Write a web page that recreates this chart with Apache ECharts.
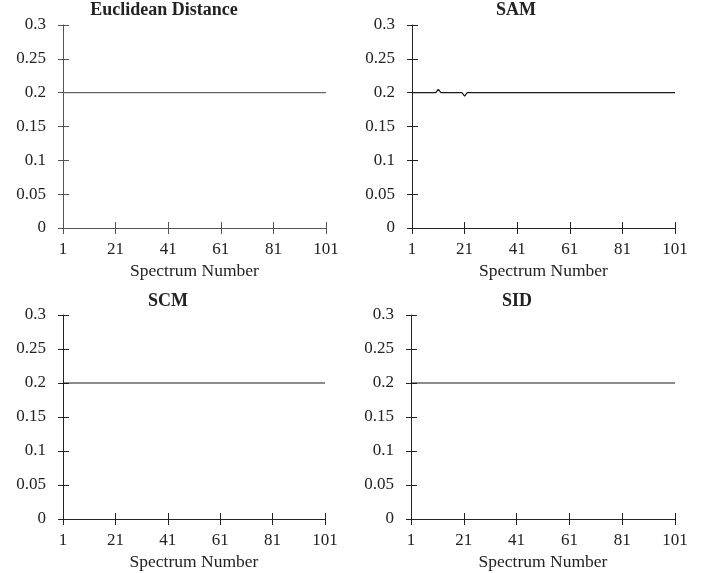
<!DOCTYPE html>
<html>
<head>
<meta charset="utf-8">
<script src="https://cdn.jsdelivr.net/npm/echarts@6/dist/echarts.min.js"></script>
<style>html,body{margin:0;padding:0;background:#fff}#c{width:708px;height:573px}</style>
</head>
<body>
<div id="c"></div>
<script>
var spectrumNumbers = [
 1,2,3,4,5,6,7,8,9,10,11,12,13,14,15,16,17,18,19,20,
 21,22,23,24,25,26,27,28,29,30,31,32,33,34,35,36,37,38,39,40,
 41,42,43,44,45,46,47,48,49,50,51,52,53,54,55,56,57,58,59,60,
 61,62,63,64,65,66,67,68,69,70,71,72,73,74,75,76,77,78,79,80,
 81,82,83,84,85,86,87,88,89,90,91,92,93,94,95,96,97,98,99,100,101
];
var yTickLabels = ['0','0.05','0.1','0.15','0.2','0.25','0.3'];
var panelTitles = ['Euclidean Distance','SAM','SCM','SID'];
var xAxisName = 'Spectrum Number';

var euclideanValues = [
 0.2,0.2,0.2,0.2,0.2,0.2,0.2,0.2,0.2,0.2,
 0.2,0.2,0.2,0.2,0.2,0.2,0.2,0.2,0.2,0.2,
 0.2,0.2,0.2,0.2,0.2,0.2,0.2,0.2,0.2,0.2,
 0.2,0.2,0.2,0.2,0.2,0.2,0.2,0.2,0.2,0.2,
 0.2,0.2,0.2,0.2,0.2,0.2,0.2,0.2,0.2,0.2,
 0.2,0.2,0.2,0.2,0.2,0.2,0.2,0.2,0.2,0.2,
 0.2,0.2,0.2,0.2,0.2,0.2,0.2,0.2,0.2,0.2,
 0.2,0.2,0.2,0.2,0.2,0.2,0.2,0.2,0.2,0.2,
 0.2,0.2,0.2,0.2,0.2,0.2,0.2,0.2,0.2,0.2,
 0.2,0.2,0.2,0.2,0.2,0.2,0.2,0.2,0.2,0.2,0.2
];
var samValues = [
 0.2,0.2,0.2,0.2,0.2,0.2,0.2,0.2,0.2,0.2,
 0.205,0.2,0.2,0.2,0.2,0.2,0.2,0.2,0.2,0.2,
 0.195,0.2,0.2,0.2,0.2,0.2,0.2,0.2,0.2,0.2,
 0.2,0.2,0.2,0.2,0.2,0.2,0.2,0.2,0.2,0.2,
 0.2,0.2,0.2,0.2,0.2,0.2,0.2,0.2,0.2,0.2,
 0.2,0.2,0.2,0.2,0.2,0.2,0.2,0.2,0.2,0.2,
 0.2,0.2,0.2,0.2,0.2,0.2,0.2,0.2,0.2,0.2,
 0.2,0.2,0.2,0.2,0.2,0.2,0.2,0.2,0.2,0.2,
 0.2,0.2,0.2,0.2,0.2,0.2,0.2,0.2,0.2,0.2,
 0.2,0.2,0.2,0.2,0.2,0.2,0.2,0.2,0.2,0.2,0.2
];
var scmValues = [
 0.2,0.2,0.2,0.2,0.2,0.2,0.2,0.2,0.2,0.2,
 0.2,0.2,0.2,0.2,0.2,0.2,0.2,0.2,0.2,0.2,
 0.2,0.2,0.2,0.2,0.2,0.2,0.2,0.2,0.2,0.2,
 0.2,0.2,0.2,0.2,0.2,0.2,0.2,0.2,0.2,0.2,
 0.2,0.2,0.2,0.2,0.2,0.2,0.2,0.2,0.2,0.2,
 0.2,0.2,0.2,0.2,0.2,0.2,0.2,0.2,0.2,0.2,
 0.2,0.2,0.2,0.2,0.2,0.2,0.2,0.2,0.2,0.2,
 0.2,0.2,0.2,0.2,0.2,0.2,0.2,0.2,0.2,0.2,
 0.2,0.2,0.2,0.2,0.2,0.2,0.2,0.2,0.2,0.2,
 0.2,0.2,0.2,0.2,0.2,0.2,0.2,0.2,0.2,0.2,0.2
];
var sidValues = [
 0.2,0.2,0.2,0.2,0.2,0.2,0.2,0.2,0.2,0.2,
 0.2,0.2,0.2,0.2,0.2,0.2,0.2,0.2,0.2,0.2,
 0.2,0.2,0.2,0.2,0.2,0.2,0.2,0.2,0.2,0.2,
 0.2,0.2,0.2,0.2,0.2,0.2,0.2,0.2,0.2,0.2,
 0.2,0.2,0.2,0.2,0.2,0.2,0.2,0.2,0.2,0.2,
 0.2,0.2,0.2,0.2,0.2,0.2,0.2,0.2,0.2,0.2,
 0.2,0.2,0.2,0.2,0.2,0.2,0.2,0.2,0.2,0.2,
 0.2,0.2,0.2,0.2,0.2,0.2,0.2,0.2,0.2,0.2,
 0.2,0.2,0.2,0.2,0.2,0.2,0.2,0.2,0.2,0.2,
 0.2,0.2,0.2,0.2,0.2,0.2,0.2,0.2,0.2,0.2,0.2
];
var seriesValues = [euclideanValues, samValues, scmValues, sidValues];

var FONT = '"Liberation Serif","DejaVu Serif",serif';
var grids = [
  {left: 63, right: 382, top: 25, bottom: 345},
  {left: 412, right: 33, top: 25, bottom: 345},
  {left: 63, right: 383, top: 315, bottom: 54},
  {left: 411, right: 33, top: 315, bottom: 54}
];
var titlePos = [
  {left: 164, top: 1},
  {left: 516, top: 1},
  {left: 168, top: 292},
  {left: 517, top: 292}
];
var axisColors = ['#555', '#222', '#222', '#222'];
var lineColors = ['#666', '#1a1a1a', '#1a1a1a', '#1a1a1a'];

var xAxes = [], yAxes = [], series = [], titles = [];
for (var i = 0; i < 4; i++) {
  var ac = axisColors[i];
  titles.push({
    text: panelTitles[i], left: titlePos[i].left, top: titlePos[i].top,
    textAlign: 'center', padding: 0,
    textStyle: {fontFamily: FONT, fontWeight: 'bold', fontSize: 18, color: '#222'}
  });
  xAxes.push({
    type: 'category', gridIndex: i, position: 'bottom', data: spectrumNumbers, boundaryGap: false,
    axisLine: {show: true, lineStyle: {color: ac, width: 1}},
    axisTick: {show: true, interval: 19, length: 6, lineStyle: {color: ac}},
    axisLabel: {interval: 19, margin: 13, fontFamily: FONT, fontSize: 17, color: '#222'},
    splitLine: {show: false},
    name: xAxisName, nameLocation: 'middle', nameGap: 34,
    nameTextStyle: {fontFamily: FONT, fontSize: 17.5, color: '#222'}
  });
  xAxes.push({
    type: 'category', gridIndex: i, position: 'bottom', offset: 0, data: spectrumNumbers, boundaryGap: false,
    axisLine: {show: false},
    axisTick: {show: true, inside: true, interval: 19, length: 6, lineStyle: {color: ac}},
    axisLabel: {show: false}, splitLine: {show: false}
  });
  yAxes.push({
    type: 'value', gridIndex: i, position: 'left', min: 0, max: 0.3, interval: 0.05,
    axisLine: {show: true, lineStyle: {color: ac, width: 1}},
    axisTick: {show: true, length: 5, lineStyle: {color: ac}},
    axisLabel: {margin: 17, fontFamily: FONT, fontSize: 17, color: '#222',
      formatter: function (v) { return yTickLabels[Math.round(v / 0.05)]; }},
    splitLine: {show: false}
  });
  yAxes.push({
    type: 'value', gridIndex: i, position: 'left', offset: 0, min: 0, max: 0.3, interval: 0.05,
    axisLine: {show: false},
    axisTick: {show: true, inside: true, length: 6, lineStyle: {color: ac}},
    axisLabel: {show: false}, splitLine: {show: false}
  });
  series.push({
    type: 'line', xAxisIndex: 2 * i, yAxisIndex: 2 * i, data: seriesValues[i],
    showSymbol: false, symbol: 'none', animation: false,
    lineStyle: {color: lineColors[i], width: 1.2}
  });
}

var chart = echarts.init(document.getElementById('c'), null, {renderer: 'canvas'});
chart.setOption({
  animation: false,
  backgroundColor: '#fff',
  title: titles,
  grid: grids,
  xAxis: xAxes,
  yAxis: yAxes,
  series: series
});
</script>
</body>
</html>
